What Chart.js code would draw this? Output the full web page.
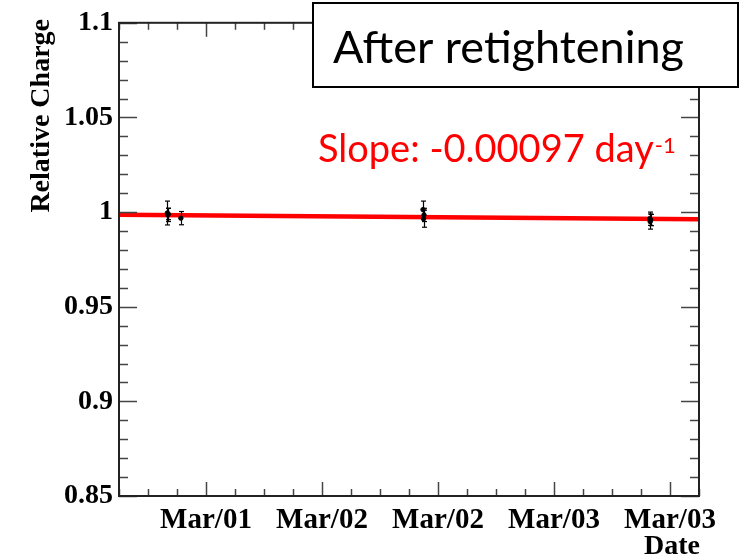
<!DOCTYPE html>
<html>
<head>
<meta charset="utf-8">
<script src="https://cdn.jsdelivr.net/npm/chart.js@4.4.0/dist/chart.umd.min.js"></script>
<style>
  html, body { margin: 0; padding: 0; background: #fff; }
  #wrap { width: 745px; height: 558px; }
</style>
</head>
<body>
<div id="wrap"><canvas id="chargeChart" width="745" height="558"></canvas></div>
<script>
// time axis in hours counted from Mar/01 00:00
const timeRange = [9, 69];
const majorHours = [18, 30, 42, 54, 66];
const majorLabels = ['Mar/01', 'Mar/02', 'Mar/02', 'Mar/03', 'Mar/03'];
const yRange = [0.85, 1.1];
const yMajorTicks = [0.85, 0.9, 0.95, 1, 1.05, 1.1];

// measured relative charge with errors
const measTime = [14.0, 14.05, 14.1, 15.4, 40.45, 40.5, 40.55, 63.9, 63.95, 64.0];
const measCharge = [0.9995, 0.9985, 0.9990, 0.9968, 1.0013, 0.9965, 0.9985, 0.9965, 0.9950, 0.9958];
const measError = [0.0063, 0.0035, 0.0030, 0.0035, 0.0045, 0.0045, 0.0035, 0.0035, 0.0040, 0.0030];

// linear fit
const fitIntercept = 0.9986; // value at start of the time range
const fitSlope = -0.00097;   // per day

const fitLine = timeRange.map(t => ({ x: t, y: fitIntercept + fitSlope * (t - timeRange[0]) / 24 }));
const points = measTime.map((t, i) => ({ x: t, y: measCharge[i] }));

const serif = '"Liberation Serif", "DejaVu Serif", serif';

function seg(ctx, x1, y1, x2, y2) {
  ctx.beginPath();
  ctx.moveTo(x1, y1);
  ctx.lineTo(x2, y2);
  ctx.stroke();
}

// vertical error bars with small caps
const errorBars = {
  id: 'errorBars',
  afterDatasetsDraw(chart) {
    const { ctx, scales: { x, y } } = chart;
    ctx.save();
    ctx.strokeStyle = '#000';
    ctx.lineWidth = 1.2;
    measTime.forEach((t, i) => {
      const px = Math.round(x.getPixelForValue(t)) + 0.5;
      const top = y.getPixelForValue(measCharge[i] + measError[i]);
      const bot = y.getPixelForValue(measCharge[i] - measError[i]);
      seg(ctx, px, top, px, bot);
      seg(ctx, px - 2.5, top, px + 2.5, top);
      seg(ctx, px - 2.5, bot, px + 2.5, bot);
    });
    ctx.restore();
  }
};

// frame, inward ticks on all sides, titles and the text boxes
const frameDecor = {
  id: 'frameDecor',
  afterDraw(chart) {
    const { ctx, chartArea: a, scales: { x, y } } = chart;
    ctx.save();
    ctx.strokeStyle = '#444';
    ctx.lineWidth = 1.5;
    for (let t = timeRange[0]; t <= timeRange[1]; t += 3) {
      const px = Math.round(x.getPixelForValue(t)) + 0.5;
      const len = majorHours.includes(t) ? 14 : 7;
      seg(ctx, px, a.bottom, px, a.bottom - len);
      seg(ctx, px, a.top, px, a.top + len);
    }
    for (let i = 0; i <= 25; i++) {
      const v = yRange[0] + i * 0.01;
      const py = Math.round(y.getPixelForValue(v)) + 0.5;
      const len = i % 5 === 0 ? 18 : 9;
      seg(ctx, a.left, py, a.left + len, py);
      seg(ctx, a.right, py, a.right - len, py);
    }
    ctx.strokeStyle = '#222';
    ctx.lineWidth = 2;
    ctx.strokeRect(a.left, a.top, a.right - a.left, a.bottom - a.top);

    // axis titles
    ctx.fillStyle = '#000';
    ctx.font = 'bold 28px ' + serif;
    ctx.textBaseline = 'alphabetic';
    ctx.textAlign = 'right';
    ctx.fillText('Date', 700, 554);
    ctx.save();
    ctx.translate(49, 19);
    ctx.rotate(-Math.PI / 2);
    ctx.fillText('Relative Charge', 0, 0);
    ctx.restore();

    // label box
    ctx.fillStyle = '#fff';
    ctx.fillRect(313, 3, 425, 84);
    ctx.strokeStyle = '#000';
    ctx.lineWidth = 2;
    ctx.strokeRect(313, 3, 425, 84);
    ctx.fillStyle = '#000';
    ctx.textAlign = 'left';
    ctx.font = '45px Lato, sans-serif';
    ctx.fillText('After retightening', 333, 63);

    // fit slope
    ctx.fillStyle = '#ff0000';
    ctx.font = '38px Lato, sans-serif';
    const slopeText = 'Slope: ' + fitSlope.toFixed(5) + ' day';
    ctx.fillText(slopeText, 318, 162);
    const w = ctx.measureText(slopeText).width;
    ctx.font = '22px Lato, sans-serif';
    ctx.fillText('-1', 318 + w + 1, 153);
    ctx.restore();
  }
};

const ctx = document.getElementById('chargeChart').getContext('2d');
new Chart(ctx, {
  data: {
    datasets: [
      {
        type: 'scatter',
        data: points,
        backgroundColor: '#000',
        borderColor: '#000',
        pointRadius: 2.2,
        order: 1,
      },
      {
        type: 'line',
        data: fitLine,
        borderColor: '#ff0000',
        borderWidth: 4.5,
        pointRadius: 0,
        fill: false,
        order: 2,
      },
    ],
  },
  options: {
    responsive: false,
    animation: false,
    events: [],
    layout: { padding: { top: 21, right: 46, left: 0, bottom: 0 } },
    plugins: {
      legend: { display: false },
      tooltip: { enabled: false },
    },
    scales: {
      x: {
        type: 'linear',
        min: timeRange[0],
        max: timeRange[1],
        afterBuildTicks: s => { s.ticks = majorHours.map(v => ({ value: v })); },
        afterFit: s => { s.height = 62; },
        grid: { display: false, drawTicks: false },
        border: { display: false },
        ticks: {
          autoSkip: false,
          maxRotation: 0,
          padding: 7,
          color: '#000',
          font: { family: serif, size: 29, weight: 'bold' },
          callback: v => majorLabels[majorHours.indexOf(v)],
        },
      },
      y: {
        min: yRange[0],
        max: yRange[1],
        afterBuildTicks: s => { s.ticks = yMajorTicks.map(v => ({ value: v })); },
        afterFit: s => { s.width = 119; },
        grid: { display: false, drawTicks: false },
        border: { display: false },
        ticks: {
          padding: 6,
          color: '#000',
          font: { family: serif, size: 28, weight: 'bold' },
          callback: v => String(v),
        },
      },
    },
  },
  plugins: [errorBars, frameDecor],
});
</script>
</body>
</html>
